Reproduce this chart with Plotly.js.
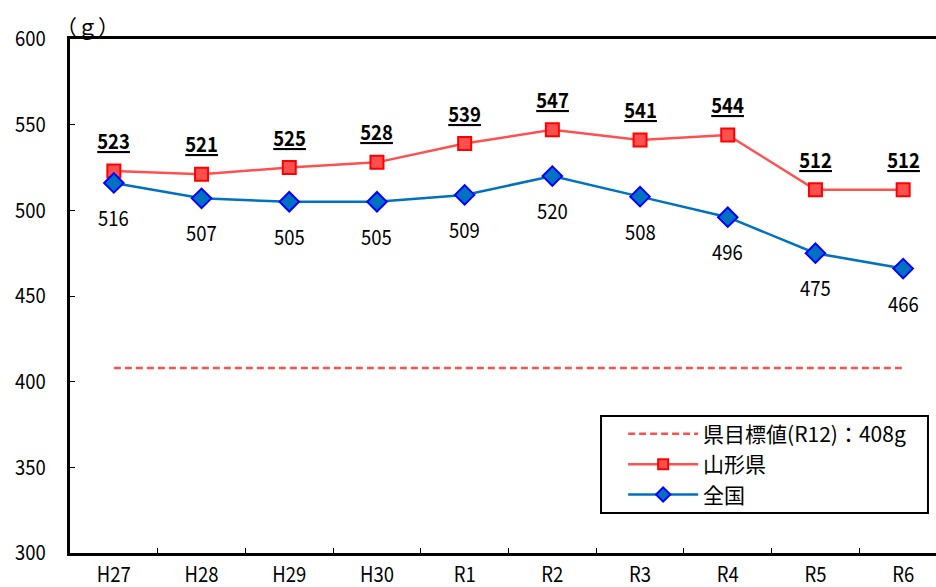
<!DOCTYPE html>
<html>
<head>
<meta charset="utf-8">
<script src="https://cdn.plot.ly/plotly-3.0.1.min.js"></script>
<style>
  html, body { margin: 0; padding: 0; overflow: hidden; background: #fff; }
  #chart { width: 960px; height: 587px; }
</style>
</head>
<body>
<div id="chart"></div>
<script>
// Fiscal years
const years = ['H27', 'H28', 'H29', 'H30', 'R1', 'R2', 'R3', 'R4', 'R5', 'R6'];
// Daily amount per person (g)
const yamagata = [523, 521, 525, 528, 539, 547, 541, 544, 512, 512];
const national = [516, 507, 505, 505, 509, 520, 508, 496, 475, 466];
// Prefectural target (R12)
const targetValue = 408;
const targetName = '県目標値(R12)：408g';
const yTicks = [300, 350, 400, 450, 500, 550, 600];

const FONT = '"Noto Sans CJK JP", sans-serif';

const redLine = { color: '#FF5050', width: 2.5 };
const blueLine = { color: '#0070C0', width: 2.5 };
const redMarker = (size) => ({ symbol: 'square', size: size, color: '#FF5050', line: { color: '#FF0000', width: 2 } });
const blueMarker = (size) => ({ symbol: 'diamond', size: size, color: '#0070C0', line: { color: '#0000FF', width: 2 } });

const traces = [
  {
    name: targetName,
    x: years,
    y: years.map(() => targetValue),
    mode: 'lines',
    line: { color: '#FF5050', width: 2.5, dash: '7px,4px' },
    hoverinfo: 'skip'
  },
  {
    name: '山形県',
    x: years,
    y: yamagata,
    mode: 'lines+markers',
    line: redLine,
    marker: redMarker(13),
    showlegend: false
  },
  {
    name: '全国',
    x: years,
    y: national,
    mode: 'lines+markers',
    line: blueLine,
    marker: blueMarker(15),
    showlegend: false
  },
  // Legend keys with smaller symbols
  { name: '山形県', x: [null], y: [null], mode: 'lines+markers', line: redLine, marker: redMarker(10) },
  { name: '全国', x: [null], y: [null], mode: 'lines+markers', line: blueLine, marker: blueMarker(11) }
];

// Value labels: prefecture above (underlined), national below
const annotations = [];
years.forEach((yr, i) => {
  annotations.push({
    x: yr, y: yamagata[i], xref: 'x', yref: 'y',
    text: '<u>' + yamagata[i] + '</u>',
    showarrow: false, yshift: 31,
    font: { family: FONT, size: 21, color: '#000', weight: 600 }
  });
  annotations.push({
    x: yr, y: national[i], xref: 'x', yref: 'y',
    text: String(national[i]),
    showarrow: false, yshift: -34,
    font: { family: FONT, size: 21, color: '#000' }
  });
});
// Unit label
annotations.push({
  xref: 'paper', yref: 'paper', x: -0.018, y: 1.0,
  xanchor: 'left', yanchor: 'bottom', yshift: -4,
  text: '（ｇ）', showarrow: false,
  font: { family: FONT, size: 21, color: '#000' }
});

const layout = {
  width: 960,
  height: 587,
  margin: { l: 70, r: 13, t: 39, b: 34 },
  paper_bgcolor: '#fff',
  plot_bgcolor: '#fff',
  showlegend: true,
  legend: {
    x: 0.6307, y: 0.271, xanchor: 'left', yanchor: 'top',
    bgcolor: 'rgba(0,0,0,0)', borderwidth: 0,
    font: { family: FONT, size: 21, color: '#000' },
    itemwidth: 70,
    tracegroupgap: 0
  },
  // Legend frame
  shapes: [{
    type: 'rect', xref: 'paper', yref: 'paper',
    x0: 0.6055, x1: 0.9783, y0: 0.0778, y1: 0.2665,
    fillcolor: '#fff', line: { color: '#000', width: 2 }, layer: 'below'
  }],
  xaxis: {
    type: 'category',
    range: [-0.5, years.length - 0.5],
    showline: true, linecolor: '#000', linewidth: 3, mirror: true,
    ticks: 'inside', ticklen: 5, tickcolor: '#000', tickwidth: 1,
    tickson: 'boundaries',
    showgrid: false, zeroline: false,
    ticklabelstandoff: 1,
    tickfont: { family: FONT, size: 21, color: '#000' }
  },
  yaxis: {
    range: [300, 600],
    tickvals: yTicks,
    showline: true, linecolor: '#000', linewidth: 3, mirror: true,
    ticks: 'inside', ticklen: 5, tickcolor: '#000', tickwidth: 1,
    showgrid: false, zeroline: false,
    ticklabelstandoff: 17,
    tickfont: { family: FONT, size: 21, color: '#000' }
  },
  annotations: annotations
};

// Narrow the numeric labels a little, keeping their anchor points
function condense(gd, factor) {
  const sel = gd.querySelectorAll('.xtick text, .ytick text, .annotation-text');
  sel.forEach(t => {
    if (t.textContent.indexOf('ｇ') >= 0) return;
    const w = t.getComputedTextLength();
    if (w > 0) {
      t.setAttribute('textLength', (w * factor).toFixed(2));
      t.setAttribute('lengthAdjust', 'spacingAndGlyphs');
    }
  });
}

Plotly.newPlot('chart', traces, layout, { displayModeBar: false, staticPlot: true })
  .then(gd => condense(gd, 0.88));
</script>
</body>
</html>
